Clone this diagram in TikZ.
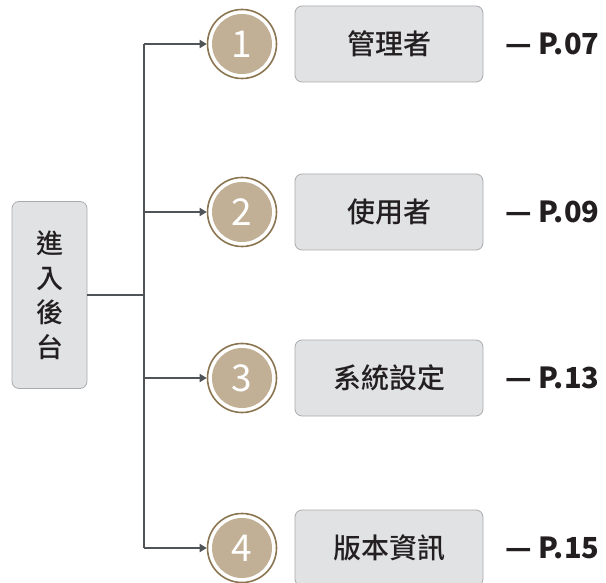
\documentclass[tikz,border=0pt]{standalone}
\usepackage{fontspec}
\newfontfamily\cjk{Noto Sans CJK TC}
\newfontfamily\cjkm{Noto Sans CJK TC Medium}
\usetikzlibrary{arrows.meta}
\definecolor{linec}{HTML}{4E5457}
\definecolor{boxfill}{HTML}{E1E2E4}
\definecolor{boxdraw}{HTML}{A9ABAE}
\definecolor{ringc}{HTML}{8A7550}
\definecolor{circfill}{HTML}{C2B096}
\definecolor{textc}{HTML}{231F20}
\tikzset{
  conn/.style={draw=linec, line width=2pt},
  arr/.style={conn, -{Triangle[length=7pt,width=8pt]}},
  menubox/.style={draw=boxdraw, fill=boxfill, line width=0.8pt, rounded corners=7pt,
    minimum width=188pt, minimum height=76pt, inner sep=0pt,
    font=\cjkm\fontsize{28}{30}\selectfont, text=textc},
  rootbox/.style={draw=boxdraw, fill=boxfill, line width=0.8pt, rounded corners=7pt,
    minimum width=75pt, minimum height=187pt, inner sep=0pt,
    font=\cjkm\fontsize{27}{34.5}\selectfont, text=textc, align=center},
  numc/.style={circle, draw=ringc, line width=1.6pt, minimum size=69pt, inner sep=0pt,
    path picture={\fill[circfill] (path picture bounding box.center) circle (30pt);},
    font=\cjk\fontsize{37}{37}\selectfont, text=white},
  page/.style={anchor=west, font=\cjk\bfseries\fontsize{29}{32}\selectfont, text=textc, inner sep=0pt}
}
\begin{document}
\begin{tikzpicture}[x=1pt,y=-1pt]
\useasboundingbox (0,0) rectangle (606,583);
\node[rootbox] (root) at (49.5,295) {進\\入\\後\\台};
\coordinate (trunk) at (144,295);
\coordinate (t1) at (144,44);
\coordinate (t4) at (144,548);
\draw[conn] (root.east) -- (trunk);
\draw[conn] (t1) -- (t4);
\foreach \i/\y/\lab/\pg in {1/44/管理者/P.07, 2/212/使用者/P.09, 3/378/系統設定/P.13, 4/548/版本資訊/P.15}{
  \coordinate (b\i) at (144,\y);
  \node[numc] (c\i) at (242,\y) {\i};
  \draw[arr] (b\i) -- (c\i.west);
  \node[menubox] (m\i) at (389,\y) {\lab};
  \node[page] (p\i) at (505,\y) {— \pg};
}
\end{tikzpicture}
\end{document}
